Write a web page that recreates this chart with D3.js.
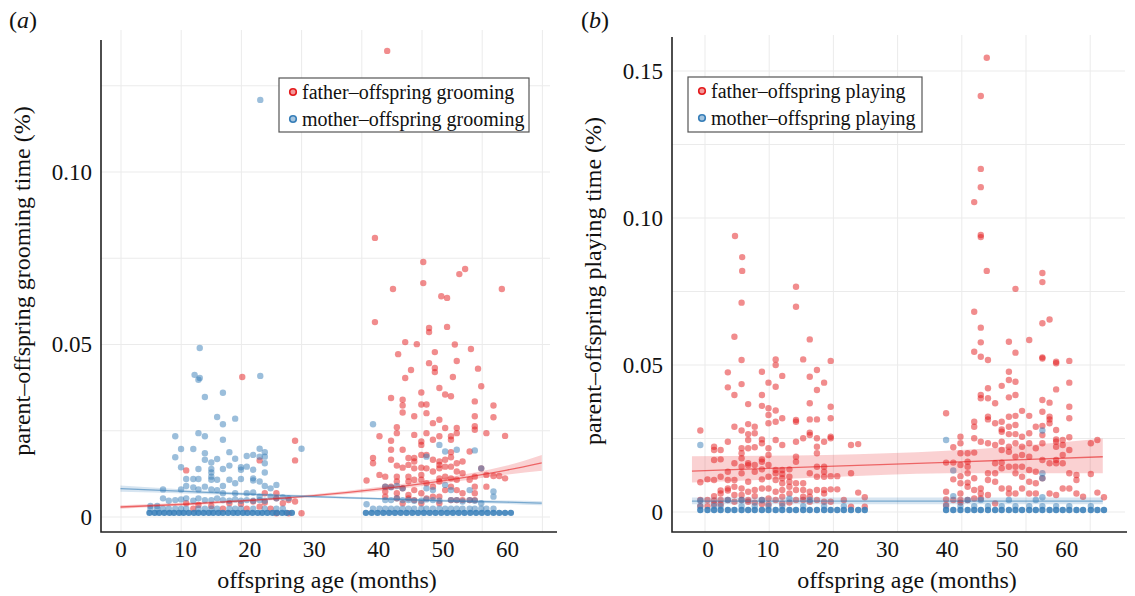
<!DOCTYPE html>
<html>
<head>
<meta charset="utf-8">
<script src="https://cdn.jsdelivr.net/npm/d3@7"></script>
<style>
body { margin: 0; background: #fff; }
svg { display: block; }
svg text { font-family: "Liberation Serif", "Times New Roman", Times, Tinos, "DejaVu Serif", serif !important; }
</style>
</head>
<body>
<div id="chart"></div>
<script>
// ---- data ----
const xTicks = [0, 10, 20, 30, 40, 50, 60];
const groomYTicks = [0, 0.05, 0.10];
const playYTicks = [0, 0.05, 0.10, 0.15];
const groomGridY = [0, 0.025, 0.05, 0.075, 0.10, 0.125];
const playGridY = [0, 0.025, 0.05, 0.075, 0.10, 0.125, 0.15];
const gridBreaks = [0, 10, 20, 30, 40, 50, 60, 70];

const groomLegend = ["father\u2013offspring grooming", "mother\u2013offspring grooming"];
const playLegend = ["father\u2013offspring playing", "mother\u2013offspring playing"];

// (a) father-offspring grooming: [age, [values]]
const groomFather = [
  [41.4, [.1351]], [39.5, [.0809, .0565]], [47.0, [.0739, .0678]], [53.5, [.0719]], [52.6, [.0704]],
  [42.3, [.0661]], [49.8, [.0640]], [50.7, [.0635, .0551]], [59.2, [.0661]], [44.2, [.0507, .0403]],
  [46.0, [.0501]], [43.1, [.0472]], [45.1, [.0426]], [47.9, [.0548, .0536, .0446]], [48.8, [.0478, .0432, .0420]],
  [54.4, [.0487]], [51.6, [.0406]], [51.9, [.0500]], [52.2, [.0452]], [55.5, [.0430]], [18.9, [.0406]],
  [38.2, [.0106]], [39.2, [.0171, .0156]], [40.2, [.0234, .0122]], [41.1, [.0117, .0088, .0074, .0059]],
  [42.0, [.0345, .0221, .0195, .0166, .0088]], [42.9, [.0260, .0243, .0149, .0117, .0103, .0069, .0054]],
  [43.8, [.0340, .0323, .0303, .0195, .0143, .0083, .0040]], [44.7, [.0171, .0151, .0117, .0103, .0064, .0054]],
  [45.6, [.0292, .0238, .0171, .0161, .0141, .0108, .0078, .0049]],
  [46.7, [.0361, .0326, .0219, .0209, .0180, .0143, .0122, .0108, .0069, .0040]],
  [47.5, [.0326, .0301, .0243, .0180, .0141, .0098, .0054]], [48.5, [.0272, .0224, .0166, .0132, .0088, .0059]],
  [49.5, [.0374, .0282, .0234, .0161, .0151, .0141, .0112, .0103, .0059, .0040]],
  [50.4, [.0355, .0258, .0166, .0146, .0117, .0078]],
  [51.3, [.0350, .0234, .0224, .0188, .0173, .0146, .0112, .0088, .0049]],
  [52.2, [.0258, .0243, .0156, .0132, .0108, .0078, .0049]], [53.1, [.0161, .0127, .0069, .0049]],
  [54.2, [.0190, .0108, .0049]], [55.0, [.0335, .0292, .0263, .0253, .0117, .0088, .0069, .0049]],
  [56.0, [.0379, .0141]], [56.8, [.0243, .0122, .0088]], [57.9, [.0323, .0289, .0119]], [58.8, [.0119]],
  [59.7, [.0235, .0112]],
  [10.2, [.0135, .0040]], [21.6, [.0164, .0030]], [27.1, [.0221, .0164, .0045]], [28.1, [.0011]],
  [11.3, [.0024]], [12.1, [.0035]], [14.1, [.0032]], [15.9, [.0024]], [16.9, [.0040]], [18.7, [.0038]],
  [19.6, [.0024]], [20.6, [.0045]], [22.4, [.0069, .0042]], [23.3, [.0024]], [24.2, [.0069, .0054, .0011]],
  [25.2, [.0040]], [26.1, [.0049, .0011]]
];

// (a) mother-offspring grooming
const groomMother = [
  [21.7, [.1209, .0409]], [12.3, [.0490, .0403]], [11.5, [.0412]],
  [12.1, [.0398, .0243, .0139, .0110, .0080, .0054]], [13.1, [.0348, .0234, .0185, .0166, .0088, .0049]],
  [15.9, [.0360, .0269, .0224, .0139, .0090, .0069, .0049]], [15.0, [.0290, .0168, .0108, .0078, .0054]],
  [17.8, [.0285, .0169, .0098, .0069, .0051]], [8.5, [.0234, .0173, .0049]],
  [9.4, [.0197, .0144, .0080, .0051]], [11.3, [.0197, .0110, .0086, .0047]],
  [16.9, [.0188, .0149, .0108, .0047]], [19.6, [.0177, .0146, .0069, .0049]],
  [20.6, [.0180, .0137, .0112, .0106, .0071, .0047]], [21.6, [.0198, .0175, .0103, .0059, .0049]],
  [22.4, [.0188, .0175, .0156, .0129, .0090, .0047]], [28.1, [.0198]],
  [14.1, [.0158, .0139, .0129, .0117, .0108, .0080, .0049]], [18.7, [.0144, .0137, .0110, .0047]],
  [10.2, [.0110, .0090, .0054]], [23.3, [.0083, .0059]], [24.2, [.0093, .0054]], [6.6, [.0080, .0054]],
  [25.2, [.0057]], [26.1, [.0054]], [4.65, [.0032]], [5.7, [.0032]], [7.5, [.0047]],
  [39.2, [.0269]], [47.5, [.0175, .0083, .0051]], [50.4, [.0190, .0093]], [52.2, [.0195, .0049]],
  [55.0, [.0193, .0047]], [49.5, [.0209, .0047]], [41.1, [.0088, .0049]], [42.0, [.0086, .0049]],
  [42.9, [.0090, .0054]], [43.8, [.0083, .0049]], [48.5, [.0078, .0049]], [51.3, [.0078, .0049]],
  [54.2, [.0078, .0049]], [56.0, [.0141, .0040]], [57.9, [.0074, .0059]], [38.2, [.0037]],
  [44.7, [.0049]], [45.6, [.0047]], [46.7, [.0047]], [53.1, [.0045]]
];
// light row just above zero
const groomMotherLow = [4.65, 5.7, 6.6, 7.5, 8.5, 9.4, 10.2, 12.1, 13.1, 14.1, 15.0, 16.9, 17.8, 18.7, 20.6,
  22.4, 24.2, 25.2, 39.2, 40.2, 41.1, 42.0, 42.9, 43.8, 44.7, 45.6, 46.7, 47.5, 48.5, 49.5, 50.4, 51.3,
  52.2, 53.1, 54.2, 55.0, 56.0, 56.8, 57.9];
// dense row of (near) zero values
const groomMotherZero = [4.5, 5.3, 6.0, 6.8, 7.6, 8.3, 9.1, 9.8, 10.6, 11.4, 12.1, 12.9, 13.7, 14.4, 15.2,
  15.9, 16.7, 17.5, 18.2, 19.0, 19.7, 20.5, 21.3, 22.0, 22.8, 23.6, 24.3, 25.1, 25.8, 26.6,
  38.1, 39.0, 39.9, 40.8, 41.7, 42.6, 43.5, 44.4, 45.3, 46.2, 47.1, 48.0, 48.9, 49.8, 50.7, 51.6,
  52.5, 53.4, 54.3, 55.2, 56.1, 57.0, 57.9, 58.8, 59.7, 60.6];

// (b) father-offspring playing
const playFather = [
  [-1.2, [.0277, .0101, .0041, .0020]], [0.0, [.0111, .0041, .0020]],
  [1.1, [.0222, .0211, .0177, .0109, .0054, .0039, .0027]], [2.2, [.0211, .0179, .0120, .0073, .0063, .0041, .0027]],
  [3.4, [.0475, .0424, .0239, .0137, .0109, .0080, .0073, .0041]], [4.5, [.0596, .0398, .0290, .0166, .0109, .0086, .0058, .0035]],
  [5.7, [.0712, .0517, .0435, .0277, .0217, .0200, .0183, .0154, .0132, .0080, .0058, .0041]],
  [6.8, [.0367, .0299, .0265, .0245, .0217, .0166, .0159, .0103, .0069, .0041, .0035]],
  [7.9, [.0290, .0268, .0220, .0160, .0137, .0075, .0054, .0032]],
  [9.1, [.0477, .0398, .0361, .0247, .0234, .0179, .0171, .0145, .0111, .0080, .0041, .0027]],
  [10.2, [.0440, .0353, .0330, .0302, .0217, .0194, .0160, .0120, .0080, .0046, .0026]],
  [11.4, [.0519, .0500, .0426, .0345, .0307, .0245, .0143, .0132, .0109, .0069, .0041]],
  [12.5, [.0463, .0319, .0228, .0143, .0129, .0115, .0098, .0075, .0052, .0029]],
  [13.7, [.0145, .0120, .0103, .0086, .0063, .0032]],
  [14.8, [.0766, .0698, .0313, .0307, .0239, .0188, .0171, .0098, .0075, .0041]],
  [16.0, [.0519, .0251, .0098, .0075, .0052, .0041]],
  [17.1, [.0587, .0460, .0370, .0315, .0270, .0262, .0132, .0069, .0052, .0035]],
  [18.3, [.0483, .0415, .0315, .0251, .0222, .0200, .0154, .0120, .0075, .0041]],
  [19.5, [.0440, .0239, .0154, .0137, .0120, .0075, .0063, .0035]],
  [20.6, [.0514, .0358, .0319, .0256, .0251, .0122, .0077, .0035]],
  [21.7, [.0122, .0077]], [22.8, [.0041]], [24.0, [.0228, .0132, .0018]], [25.2, [.0231, .0066]], [26.3, [.0050, .0018]],
  [4.6, [.0939]], [5.8, [.0867, .0820]],
  [39.9, [.0336, .0168, .0069, .0043, .0024]], [41.1, [.0220, .0168, .0111, .0041]],
  [42.3, [.0256, .0234, .0200, .0160, .0122, .0098, .0063, .0041, .0032]],
  [43.5, [.0200, .0171, .0154, .0132, .0100, .0086, .0041]],
  [44.6, [.1054, .0681, .0545, .0307, .0290, .0251, .0202, .0115, .0075, .0046]],
  [45.7, [.1415, .1167, .1105, .0942, .0935, .0627, .0577, .0528, .0398, .0387, .0239, .0080, .0063, .0046]],
  [46.7, [.1545, .0820]],
  [46.9, [.0517, .0421, .0387, .0324, .0315, .0234, .0132, .0109, .0058]],
  [48.1, [.0370, .0302, .0228, .0166, .0132, .0103, .0029]],
  [49.2, [.0429, .0307, .0281, .0273, .0239, .0211, .0168, .0149, .0080]],
  [50.4, [.0579, .0477, .0449, .0390, .0324, .0290, .0265, .0222, .0205, .0154, .0080, .0063]],
  [51.5, [.0759, .0542, .0443, .0398, .0327, .0296, .0265, .0234, .0188, .0154, .0132, .0063]],
  [52.6, [.0344, .0256, .0222, .0194, .0154, .0120, .0080]],
  [53.8, [.0585, .0327, .0268, .0234, .0188, .0143, .0103, .0063]],
  [54.9, [.0290, .0217, .0137, .0098, .0063]],
  [56.0, [.0813, .0782, .0642, .0526, .0522, .0381, .0341, .0293, .0262, .0234, .0177, .0115]],
  [57.2, [.0655, .0372, .0324, .0315, .0302, .0166, .0063]],
  [58.3, [.0511, .0506, .0417, .0279, .0247, .0239, .0222, .0177, .0166, .0058]],
  [59.4, [.0245, .0228, .0194, .0166, .0080]],
  [60.5, [.0514, .0440, .0358, .0319, .0254, .0211, .0132, .0080]],
  [61.7, [.0126, .0109, .0063]], [62.8, [.0052]], [64.1, [.0234, .0129]], [65.2, [.0245, .0066]], [66.3, [.0050]]
];

// (b) mother-offspring playing
const playMother = [
  [-1.2, [.0228, .0039]], [39.9, [.0245]], [41.1, [.0141, .0054]], [56.0, [.0277, .0132, .0115, .0050]],
  [3.4, [.0041]], [5.7, [.0041]], [9.1, [.0041]], [13.7, [.0045]], [17.1, [.0041]],
  [43.5, [.0041]], [45.7, [.0041]], [50.4, [.0041]], [54.9, [.0041]]
];
const playMotherLow = [-1.2, 1.1, 2.2, 5.7, 7.9, 10.2, 12.5, 16.0, 19.5, 22.8, 39.9, 42.3, 44.6, 46.9,
  49.2, 51.5, 53.8, 56.0, 58.3, 60.5, 64.1];
const playMotherZero = [-1.2, 0.0, 1.1, 2.2, 3.4, 4.5, 5.7, 6.8, 7.9, 9.1, 10.2, 11.4, 12.5, 13.7, 14.8,
  16.0, 17.1, 18.3, 19.5, 20.6, 21.7, 22.8, 24.0, 25.2, 26.3,
  39.9, 41.1, 42.3, 43.5, 44.6, 45.7, 46.9, 48.1, 49.2, 50.4, 51.5, 52.6, 53.8, 54.9, 56.0, 57.2,
  58.3, 59.4, 60.5, 61.7, 62.8, 64.1, 65.2, 66.3];

// fitted lines with confidence band: [age, lower, fit, upper]
const groomFatherFit = [[0, .0024, .0029, .0034], [10, .0033, .0037, .0041], [20, .0044, .0048, .0052],
  [30, .0058, .0062, .0066], [40, .0075, .0081, .0087], [50, .0097, .0105, .0113], [60, .0123, .0136, .0149],
  [65.4, .0134, .0157, .0180]];
const groomMotherFit = [[0, .0073, .0082, .0091], [10, .0068, .0074, .0080], [20, .0062, .0066, .0070],
  [30, .0056, .0059, .0062], [40, .0050, .0053, .0056], [50, .0044, .0047, .0051], [60, .0038, .0043, .0048],
  [65.4, .0034, .0040, .0046]];
const playFatherFit = [[-2.6, .0100, .0139, .0190], [20, .0118, .0155, .0194], [40, .0132, .0169, .0208],
  [66.1, .0132, .0188, .0250]];
const playMotherFit = [[-2.6, .0026, .0037, .0049], [66.1, .0026, .0037, .0049]];

const RED = "#e41a1c", BLUE = "#377eb8";
const SERIF = "'Liberation Serif', 'Times New Roman', Times, Tinos, 'DejaVu Serif', serif";

// ---- drawing ----
const svg = d3.select("#chart").append("svg")
  .attr("width", 1135).attr("height", 596)
  .style("font-family", SERIF);

function expand(cols) {
  return cols.flatMap(([age, vals]) => vals.map(v => ({ age: age, value: v, n: 1 })));
}
function row(ages, value, n) {
  return ages.map(a => ({ age: a, value: value, n: n }));
}
const fmt = d => d === 0 ? "0" : d3.format(".2f")(d);

const panels = [
  {
    tag: "a", tagX: 9,
    x: d3.scaleLinear().domain([0, 60]).range([120.5, 507]),
    y: d3.scaleLinear().domain([0, 0.10]).range([517, 172]),
    gridX: d3.scaleLinear().domain([0, 70]).range([121, 542.4]),
    gridY: groomGridY, yTicks: groomYTicks,
    left: 101, right: 557, top: 40, gridTop: 30, gridRight: 550,
    father: expand(groomFather),
    mother: expand(groomMother).concat(row(groomMotherLow, 0.0024, 1), row(groomMotherZero, 0.0012, 3)),
    fits: [[groomFatherFit, RED], [groomMotherFit, BLUE]],
    legend: groomLegend, box: [279, 78, 250, 54],
    ytitle: "parent\u2013offspring grooming time (%)", ytitleX: 22, xtitleX: 327
  },
  {
    tag: "b", tagX: 581,
    x: d3.scaleLinear().domain([0, 60]).range([707.5, 1066.3]),
    y: d3.scaleLinear().domain([0, 0.15]).range([512, 71]),
    gridX: d3.scaleLinear().domain([0, 70]).range([705, 1154.4]),
    gridY: playGridY, yTicks: playYTicks,
    left: 672, right: 1127, top: 37, gridTop: 35, gridRight: 1125,
    father: expand(playFather),
    mother: expand(playMother).concat(row(playMotherLow, 0.0020, 1), row(playMotherZero, 0.0007, 3)),
    fits: [[playFatherFit, RED], [playMotherFit, BLUE]],
    legend: playLegend, box: [688, 77, 234, 55],
    ytitle: "parent\u2013offspring playing time (%)", ytitleX: 593, xtitleX: 907
  }
];

const bottom = 532;

panels.forEach(p => {
  const g = svg.append("g");

  // grid
  g.append("g").selectAll("line")
    .data(gridBreaks.filter(b => p.gridX(b) <= p.gridRight + 1))
    .join("line")
    .attr("x1", d => p.gridX(d)).attr("x2", d => p.gridX(d))
    .attr("y1", p.gridTop).attr("y2", bottom)
    .attr("stroke", "#ebebeb").attr("stroke-width", 1);
  g.append("g").selectAll("line")
    .data(p.gridY)
    .join("line")
    .attr("x1", p.left).attr("x2", p.gridRight)
    .attr("y1", d => p.y(d)).attr("y2", d => p.y(d))
    .attr("stroke", "#ebebeb").attr("stroke-width", 1);

  // points
  g.append("g").selectAll("circle")
    .data(p.father)
    .join("circle")
    .attr("cx", d => p.x(d.age)).attr("cy", d => p.y(d.value))
    .attr("r", 3.2)
    .attr("fill", RED).attr("fill-opacity", d => 1 - Math.pow(0.5, d.n));
  g.append("g").selectAll("circle")
    .data(p.mother)
    .join("circle")
    .attr("cx", d => p.x(d.age)).attr("cy", d => p.y(d.value))
    .attr("r", 3.2)
    .attr("fill", BLUE).attr("fill-opacity", d => 1 - Math.pow(0.5, d.n));

  // fitted lines and bands
  p.fits.forEach(([fit, col]) => {
    const area = d3.area()
      .x(d => p.x(d[0])).y0(d => p.y(d[1])).y1(d => p.y(d[3]))
      .curve(d3.curveMonotoneX);
    const line = d3.line()
      .x(d => p.x(d[0])).y(d => p.y(d[2]))
      .curve(d3.curveMonotoneX);
    g.append("path").attr("d", area(fit))
      .attr("fill", col).attr("fill-opacity", 0.2);
    g.append("path").attr("d", line(fit))
      .attr("fill", "none").attr("stroke", col)
      .attr("stroke-opacity", 0.6).attr("stroke-width", 1.3);
  });

  // axes (labels only, lines drawn separately)
  const xa = g.append("g")
    .attr("transform", `translate(0,${bottom})`)
    .call(d3.axisBottom(p.x).tickValues(xTicks).tickSize(0).tickPadding(9));
  xa.attr("font-family", null);
  xa.select(".domain").remove();
  xa.selectAll("text").attr("font-size", 23).attr("fill", "#111");

  const ya = g.append("g")
    .attr("transform", `translate(${p.left},0)`)
    .call(d3.axisLeft(p.y).tickValues(p.yTicks).tickFormat(fmt).tickSize(0).tickPadding(9));
  ya.attr("font-family", null);
  ya.select(".domain").remove();
  ya.selectAll("text").attr("font-size", 23).attr("fill", "#111");

  g.append("path")
    .attr("d", `M${p.left},${p.top}V${bottom}H${p.right}`)
    .attr("fill", "none").attr("stroke", "#222").attr("stroke-width", 1.6);

  // titles
  g.append("text")
    .attr("x", p.xtitleX).attr("y", 580)
    .attr("text-anchor", "middle").attr("dominant-baseline", "central")
    .attr("font-size", 24).attr("fill", "#111")
    .text("offspring age (months)");
  g.append("text")
    .attr("transform", `translate(${p.ytitleX},281) rotate(-90)`)
    .attr("text-anchor", "middle").attr("dominant-baseline", "central")
    .attr("font-size", 24).attr("fill", "#111")
    .text(p.ytitle);

  const tag = g.append("text")
    .attr("x", p.tagX).attr("y", 28)
    .attr("font-size", 24).attr("fill", "#111");
  tag.append("tspan").text("(");
  tag.append("tspan").attr("font-style", "italic").text(p.tag);
  tag.append("tspan").text(")");

  // legend
  const [bx, by, bw, bh] = p.box;
  const lg = g.append("g");
  lg.append("rect")
    .attr("x", bx).attr("y", by).attr("width", bw).attr("height", bh)
    .attr("fill", "#fff").attr("stroke", "#555").attr("stroke-width", 1.2);
  [RED, BLUE].forEach((col, i) => {
    const cy = by + 14 + i * 27;
    lg.append("circle")
      .attr("cx", bx + 14).attr("cy", cy).attr("r", 3.3)
      .attr("fill", col).attr("fill-opacity", 0.45)
      .attr("stroke", col).attr("stroke-width", 1.6);
    lg.append("text")
      .attr("x", bx + 23).attr("y", cy)
      .attr("dominant-baseline", "central")
      .attr("font-size", 20).attr("fill", "#111")
      .text(p.legend[i]);
  });
});
</script>
</body>
</html>
